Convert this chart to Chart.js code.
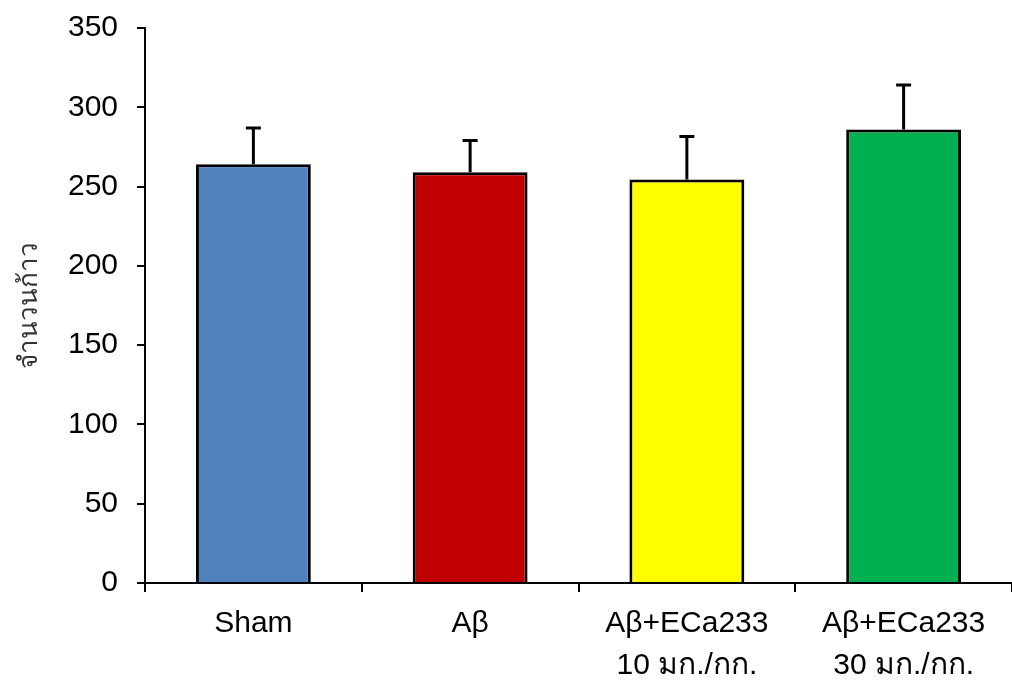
<!DOCTYPE html>
<html>
<head>
<meta charset="utf-8">
<script src="https://cdn.jsdelivr.net/npm/chart.js@4/dist/chart.umd.min.js"></script>
<style>
  html, body { margin: 0; padding: 0; background: #ffffff; }
  #wrap { width: 1012px; height: 682px; position: relative; }
</style>
</head>
<body>
<div id="wrap"><canvas id="c"></canvas></div>
<script>
const categories = [["Sham"], ["Aβ"], ["Aβ+ECa233", "10 มก./กก."], ["Aβ+ECa233", "30 มก./กก."]];
const means = [264, 259, 254.5, 286];
const errors = [23, 20, 27, 28];
const barColors = ["#4F81BD", "#C00000", "#FFFF00", "#00B050"];
const yTicks = [0, 50, 100, 150, 200, 250, 300, 350];
const yTitle = "จำนวนก้าว";

const errorBarPlugin = {
  id: "errorBars",
  afterDatasetsDraw(chart) {
    const ctx = chart.ctx;
    const meta = chart.getDatasetMeta(0);
    const yScale = chart.scales.y;
    ctx.save();
    ctx.strokeStyle = "#000";
    ctx.lineWidth = 3;
    meta.data.forEach((bar, i) => {
      const x = bar.x;
      const yTop = yScale.getPixelForValue(means[i] + errors[i]);
      const yBase = yScale.getPixelForValue(means[i]);
      ctx.beginPath();
      ctx.moveTo(x, yBase);
      ctx.lineTo(x, yTop);
      ctx.moveTo(x - 7.5, yTop);
      ctx.lineTo(x + 7.5, yTop);
      ctx.stroke();
    });
    ctx.restore();
  }
};

new Chart(document.getElementById("c"), {
  type: "bar",
  data: {
    labels: categories,
    datasets: [{
      data: means,
      backgroundColor: barColors,
      borderColor: "#000",
      borderWidth: 3,
      categoryPercentage: 1,
      barPercentage: 0.53
    }]
  },
  options: {
    responsive: true,
    maintainAspectRatio: false,
    animation: false,
    layout: { padding: { top: 28, right: 0, bottom: 0, left: 0 } },
    plugins: { legend: { display: false }, tooltip: { enabled: false } },
    scales: {
      x: {
        offset: true,
        grid: { display: true, drawOnChartArea: false, drawTicks: true, tickLength: 9, offset: true, color: "#000", lineWidth: 2 },
        border: { display: true, color: "#000", width: 2 },
        ticks: {
          autoSkip: false, maxRotation: 0, minRotation: 0, padding: 11,
          color: "#000",
          font: { family: "'Liberation Sans', Arial, sans-serif", size: 30, lineHeight: 1.4 }
        },
        afterFit(scale) { scale.height = 99; scale.paddingLeft = 0; scale.paddingRight = 0; }
      },
      y: {
        min: 0, max: 350,
        afterBuildTicks(scale) { scale.ticks = yTicks.map(v => ({ value: v })); },
        grid: { display: true, drawOnChartArea: false, drawTicks: true, tickLength: 8, color: "#000", lineWidth: 2 },
        border: { display: true, color: "#000", width: 2 },
        ticks: {
          padding: 19, color: "#000",
          font: { family: "'Liberation Sans', Arial, sans-serif", size: 30 }
        },
        title: {
          display: true, text: yTitle, color: "#333333",
          font: { family: "'Noto Sans', 'DejaVu Sans', sans-serif", size: 26 },
          padding: { top: 14, bottom: 0 }
        },
        afterFit(scale) { scale.width = 145; scale.paddingTop = 0; scale.paddingBottom = 0; }
      }
    }
  },
  plugins: [errorBarPlugin]
});
</script>
</body>
</html>
